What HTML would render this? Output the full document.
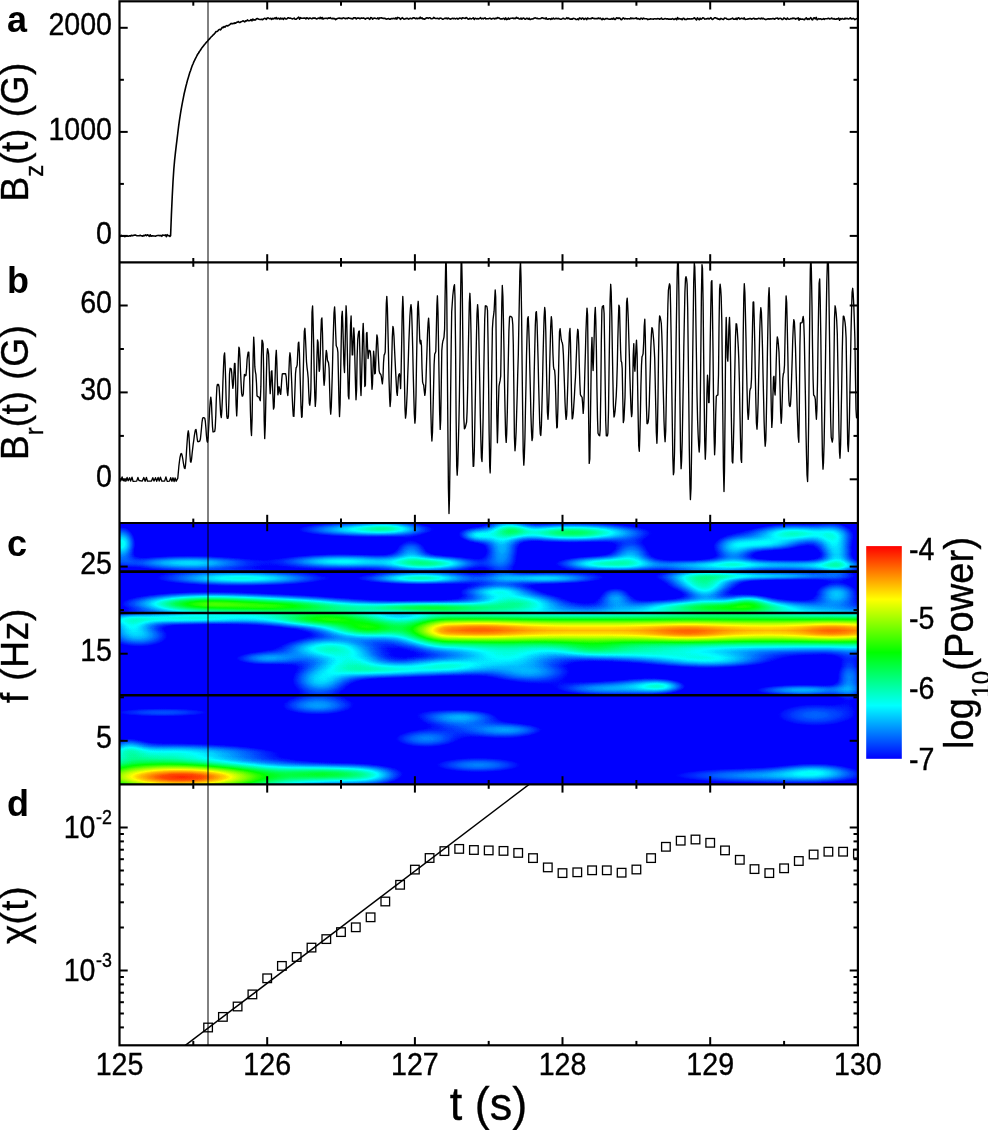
<!DOCTYPE html><html><head><meta charset="utf-8"><title>figure</title><style>html,body{margin:0;padding:0;background:#fff}svg{display:block}text{font-family:"Liberation Sans",Arial,sans-serif;fill:#000}</style></head><body>
<svg width="988" height="1130" viewBox="0 0 988 1130">
<defs>
<radialGradient id="g"><stop offset="0.0" stop-color="#fff" stop-opacity="1.000"/><stop offset="0.1" stop-color="#fff" stop-opacity="0.956"/><stop offset="0.2" stop-color="#fff" stop-opacity="0.835"/><stop offset="0.3" stop-color="#fff" stop-opacity="0.667"/><stop offset="0.4" stop-color="#fff" stop-opacity="0.487"/><stop offset="0.5" stop-color="#fff" stop-opacity="0.325"/><stop offset="0.6" stop-color="#fff" stop-opacity="0.198"/><stop offset="0.7" stop-color="#fff" stop-opacity="0.110"/><stop offset="0.8" stop-color="#fff" stop-opacity="0.056"/><stop offset="0.9" stop-color="#fff" stop-opacity="0.026"/><stop offset="1.0" stop-color="#fff" stop-opacity="0.000"/></radialGradient>
<linearGradient id="vg" x1="0" y1="0" x2="0" y2="1"><stop offset="0.00" stop-color="#fff" stop-opacity="0.000"/><stop offset="0.05" stop-color="#fff" stop-opacity="0.026"/><stop offset="0.10" stop-color="#fff" stop-opacity="0.056"/><stop offset="0.15" stop-color="#fff" stop-opacity="0.110"/><stop offset="0.20" stop-color="#fff" stop-opacity="0.198"/><stop offset="0.25" stop-color="#fff" stop-opacity="0.325"/><stop offset="0.30" stop-color="#fff" stop-opacity="0.487"/><stop offset="0.35" stop-color="#fff" stop-opacity="0.667"/><stop offset="0.40" stop-color="#fff" stop-opacity="0.835"/><stop offset="0.45" stop-color="#fff" stop-opacity="0.956"/><stop offset="0.50" stop-color="#fff" stop-opacity="1.000"/><stop offset="0.55" stop-color="#fff" stop-opacity="0.956"/><stop offset="0.60" stop-color="#fff" stop-opacity="0.835"/><stop offset="0.65" stop-color="#fff" stop-opacity="0.667"/><stop offset="0.70" stop-color="#fff" stop-opacity="0.487"/><stop offset="0.75" stop-color="#fff" stop-opacity="0.325"/><stop offset="0.80" stop-color="#fff" stop-opacity="0.198"/><stop offset="0.85" stop-color="#fff" stop-opacity="0.110"/><stop offset="0.90" stop-color="#fff" stop-opacity="0.056"/><stop offset="0.95" stop-color="#fff" stop-opacity="0.026"/><stop offset="1.00" stop-color="#fff" stop-opacity="0.000"/></linearGradient>
<linearGradient id="cb" x1="0" y1="0" x2="0" y2="1"><stop offset="0" stop-color="#f00"/><stop offset=".25" stop-color="#ff0"/><stop offset=".5" stop-color="#0f0"/><stop offset=".75" stop-color="#0ff"/><stop offset="1" stop-color="#00f"/></linearGradient>
<filter id="jet" color-interpolation-filters="sRGB" x="0" y="0" width="1" height="1" filterUnits="objectBoundingBox"><feComponentTransfer><feFuncR type="linear" slope="1.12" intercept="-0.12"/><feFuncG type="linear" slope="1.12" intercept="-0.12"/><feFuncB type="linear" slope="1.12" intercept="-0.12"/></feComponentTransfer><feComponentTransfer><feFuncR type="table" tableValues="0 0 0 1 1"/><feFuncG type="table" tableValues="0 1 1 1 0"/><feFuncB type="table" tableValues="1 1 0 0 0"/></feComponentTransfer></filter>
<clipPath id="ca"><rect x="119.5" y="1.3" width="738.4" height="261.09999999999997"/></clipPath>
<clipPath id="cbp"><rect x="119.5" y="262.4" width="738.4" height="260.6"/></clipPath>
<clipPath id="cc"><rect x="119.5" y="523.0" width="738.4" height="261.4"/></clipPath>
<clipPath id="cd"><rect x="119.5" y="784.4" width="738.4" height="260.9"/></clipPath>
</defs>
<rect width="988" height="1130" fill="#fff"/>
<g clip-path="url(#cc)"><g filter="url(#jet)">
<rect x="114.5" y="518.0" width="748.4" height="271.4" fill="#000"/>
<ellipse cx="182.1" cy="777.1" rx="216.0" ry="31.5" fill="url(#g)" fill-opacity="0.973"/>
<ellipse cx="146.6" cy="762.4" rx="120.0" ry="33.0" fill="url(#g)" fill-opacity="0.214"/>
<ellipse cx="128.2" cy="749.2" rx="36.0" ry="24.0" fill="url(#g)" fill-opacity="0.196"/>
<ellipse cx="193.9" cy="751.8" rx="180.0" ry="18.0" fill="url(#g)" fill-opacity="0.223"/>
<ellipse cx="162.4" cy="712.4" rx="135.0" ry="12.0" fill="url(#g)" fill-opacity="0.179"/>
<ellipse cx="325.5" cy="774.2" rx="114.0" ry="18.0" fill="url(#g)" fill-opacity="0.429"/>
<ellipse cx="317.6" cy="705.8" rx="84.0" ry="21.0" fill="url(#g)" fill-opacity="0.241"/>
<ellipse cx="138.7" cy="636.1" rx="66.0" ry="24.0" fill="url(#g)" fill-opacity="0.259"/>
<ellipse cx="130.8" cy="625.5" rx="42.0" ry="18.0" fill="url(#g)" fill-opacity="0.214"/>
<ellipse cx="180.8" cy="618.9" rx="210.0" ry="12.0" fill="url(#g)" fill-opacity="0.33"/>
<ellipse cx="201.8" cy="603.7" rx="135.0" ry="19.5" fill="url(#g)" fill-opacity="0.518"/>
<ellipse cx="278.2" cy="605.8" rx="165.0" ry="18.0" fill="url(#g)" fill-opacity="0.509"/>
<ellipse cx="325.5" cy="618.9" rx="120.0" ry="18.0" fill="url(#g)" fill-opacity="0.509"/>
<ellipse cx="367.6" cy="628.2" rx="90.0" ry="21.0" fill="url(#g)" fill-opacity="0.509"/>
<ellipse cx="241.3" cy="578.2" rx="165.0" ry="15.0" fill="url(#g)" fill-opacity="0.357"/>
<ellipse cx="188.7" cy="562.9" rx="135.0" ry="15.0" fill="url(#g)" fill-opacity="0.304"/>
<ellipse cx="340.0" cy="561.5" rx="120.0" ry="15.0" fill="url(#g)" fill-opacity="0.33"/>
<ellipse cx="365.0" cy="529.5" rx="135.0" ry="15.0" fill="url(#g)" fill-opacity="0.33"/>
<ellipse cx="388.0" cy="528.0" rx="54.0" ry="12.0" fill="url(#g)" fill-opacity="0.179"/>
<ellipse cx="121.6" cy="543.9" rx="27.0" ry="33.0" fill="url(#g)" fill-opacity="0.348"/>
<ellipse cx="325.5" cy="647.9" rx="90.0" ry="21.0" fill="url(#g)" fill-opacity="0.339"/>
<ellipse cx="351.8" cy="662.4" rx="75.0" ry="30.0" fill="url(#g)" fill-opacity="0.304"/>
<ellipse cx="320.3" cy="680.8" rx="60.0" ry="30.0" fill="url(#g)" fill-opacity="0.286"/>
<ellipse cx="267.6" cy="658.4" rx="75.0" ry="15.0" fill="url(#g)" fill-opacity="0.241"/>
<rect x="450.0" y="594.5" width="420.0" height="72.0" fill="url(#vg)" fill-opacity="0.839"/>
<clipPath id="cap450"><rect x="350.0" y="593.5" width="100.0" height="74.0"/></clipPath>
<ellipse clip-path="url(#cap450)" cx="450.0" cy="630.5" rx="99.0" ry="36.0" fill="url(#g)" fill-opacity="0.839"/>
<ellipse cx="480.0" cy="629.5" rx="96.0" ry="15.0" fill="url(#g)" fill-opacity="0.509"/>
<ellipse cx="688.0" cy="632.0" rx="84.0" ry="15.0" fill="url(#g)" fill-opacity="0.509"/>
<ellipse cx="832.0" cy="631.0" rx="66.0" ry="15.0" fill="url(#g)" fill-opacity="0.482"/>
<ellipse cx="430.0" cy="563.5" rx="96.0" ry="15.0" fill="url(#g)" fill-opacity="0.411"/>
<ellipse cx="420.5" cy="578.2" rx="105.0" ry="12.0" fill="url(#g)" fill-opacity="0.393"/>
<ellipse cx="425.8" cy="607.6" rx="180.0" ry="12.0" fill="url(#g)" fill-opacity="0.446"/>
<ellipse cx="517.9" cy="601.8" rx="90.0" ry="18.0" fill="url(#g)" fill-opacity="0.33"/>
<ellipse cx="496.8" cy="591.3" rx="75.0" ry="15.0" fill="url(#g)" fill-opacity="0.286"/>
<ellipse cx="502.1" cy="546.6" rx="36.0" ry="60.0" fill="url(#g)" fill-opacity="0.268"/>
<ellipse cx="580.0" cy="532.5" rx="135.0" ry="18.0" fill="url(#g)" fill-opacity="0.33"/>
<ellipse cx="603.0" cy="563.5" rx="90.0" ry="15.0" fill="url(#g)" fill-opacity="0.348"/>
<ellipse cx="544.2" cy="578.2" rx="120.0" ry="12.0" fill="url(#g)" fill-opacity="0.304"/>
<ellipse cx="446.8" cy="666.3" rx="105.0" ry="18.0" fill="url(#g)" fill-opacity="0.321"/>
<ellipse cx="386.3" cy="670.3" rx="105.0" ry="15.0" fill="url(#g)" fill-opacity="0.268"/>
<ellipse cx="507.4" cy="655.8" rx="105.0" ry="24.0" fill="url(#g)" fill-opacity="0.259"/>
<ellipse cx="591.6" cy="649.2" rx="75.0" ry="18.0" fill="url(#g)" fill-opacity="0.241"/>
<ellipse cx="531.1" cy="672.9" rx="90.0" ry="24.0" fill="url(#g)" fill-opacity="0.241"/>
<ellipse cx="596.8" cy="688.7" rx="90.0" ry="15.0" fill="url(#g)" fill-opacity="0.214"/>
<ellipse cx="425.8" cy="738.7" rx="75.0" ry="21.0" fill="url(#g)" fill-opacity="0.223"/>
<ellipse cx="465.3" cy="716.3" rx="75.0" ry="15.0" fill="url(#g)" fill-opacity="0.196"/>
<ellipse cx="512.6" cy="729.5" rx="75.0" ry="15.0" fill="url(#g)" fill-opacity="0.196"/>
<ellipse cx="478.4" cy="765.0" rx="105.0" ry="18.0" fill="url(#g)" fill-opacity="0.223"/>
<ellipse cx="367.9" cy="775.5" rx="66.0" ry="21.0" fill="url(#g)" fill-opacity="0.196"/>
<ellipse cx="794.5" cy="533.4" rx="90.0" ry="18.0" fill="url(#g)" fill-opacity="0.375"/>
<ellipse cx="833.9" cy="541.3" rx="36.0" ry="36.0" fill="url(#g)" fill-opacity="0.259"/>
<ellipse cx="736.6" cy="565.0" rx="210.0" ry="12.0" fill="url(#g)" fill-opacity="0.304"/>
<ellipse cx="762.9" cy="543.9" rx="75.0" ry="15.0" fill="url(#g)" fill-opacity="0.286"/>
<ellipse cx="702.4" cy="580.8" rx="75.0" ry="21.0" fill="url(#g)" fill-opacity="0.357"/>
<ellipse cx="762.9" cy="576.1" rx="180.0" ry="9.0" fill="url(#g)" fill-opacity="0.286"/>
<ellipse cx="723.4" cy="607.1" rx="165.0" ry="15.0" fill="url(#g)" fill-opacity="0.464"/>
<ellipse cx="836.6" cy="593.9" rx="45.0" ry="24.0" fill="url(#g)" fill-opacity="0.286"/>
<ellipse cx="710.3" cy="659.7" rx="120.0" ry="18.0" fill="url(#g)" fill-opacity="0.286"/>
<ellipse cx="644.5" cy="653.2" rx="120.0" ry="18.0" fill="url(#g)" fill-opacity="0.214"/>
<ellipse cx="644.5" cy="686.1" rx="75.0" ry="18.0" fill="url(#g)" fill-opacity="0.223"/>
<ellipse cx="802.4" cy="690.0" rx="105.0" ry="12.0" fill="url(#g)" fill-opacity="0.259"/>
<ellipse cx="849.7" cy="678.2" rx="30.0" ry="45.0" fill="url(#g)" fill-opacity="0.223"/>
<ellipse cx="815.5" cy="715.0" rx="105.0" ry="30.0" fill="url(#g)" fill-opacity="0.196"/>
<ellipse cx="762.9" cy="775.5" rx="210.0" ry="18.0" fill="url(#g)" fill-opacity="0.241"/>
<ellipse cx="815.5" cy="771.6" rx="75.0" ry="18.0" fill="url(#g)" fill-opacity="0.214"/>
<ellipse cx="477.6" cy="535.4" rx="36.0" ry="15.0" fill="url(#g)" fill-opacity="0.286"/>
<ellipse cx="513.4" cy="530.3" rx="36.0" ry="15.0" fill="url(#g)" fill-opacity="0.268"/>
<ellipse cx="411.1" cy="550.8" rx="36.0" ry="24.0" fill="url(#g)" fill-opacity="0.223"/>
<ellipse cx="631.0" cy="553.3" rx="42.0" ry="27.0" fill="url(#g)" fill-opacity="0.241"/>
<ellipse cx="733.2" cy="550.8" rx="42.0" ry="30.0" fill="url(#g)" fill-opacity="0.232"/>
<ellipse cx="838.0" cy="558.5" rx="30.0" ry="30.0" fill="url(#g)" fill-opacity="0.196"/>
<ellipse cx="830.3" cy="566.1" rx="75.0" ry="12.0" fill="url(#g)" fill-opacity="0.196"/>
<ellipse cx="615.6" cy="596.8" rx="36.0" ry="21.0" fill="url(#g)" fill-opacity="0.232"/>
<ellipse cx="705.1" cy="591.7" rx="42.0" ry="21.0" fill="url(#g)" fill-opacity="0.232"/>
<ellipse cx="748.5" cy="601.9" rx="42.0" ry="15.0" fill="url(#g)" fill-opacity="0.286"/>
<ellipse cx="564.5" cy="532.9" rx="105.0" ry="15.0" fill="url(#g)" fill-opacity="0.241"/>
<ellipse cx="661.6" cy="686.3" rx="42.0" ry="12.0" fill="url(#g)" fill-opacity="0.214"/>
<ellipse cx="462.2" cy="724.6" rx="135.0" ry="24.0" fill="url(#g)" fill-opacity="0.143" transform="rotate(12 462.2 724.6)"/>
</g></g>
<line x1="119.5" x2="857.9" y1="571.6" y2="571.6" stroke="#000" stroke-width="2.6"/>
<line x1="119.5" x2="857.9" y1="613.0" y2="613.0" stroke="#000" stroke-width="2.6"/>
<line x1="119.5" x2="857.9" y1="695.3" y2="695.3" stroke="#000" stroke-width="2.6"/>
<line x1="208" x2="208" y1="1.3" y2="1045.3" stroke="#000" stroke-opacity=".66" stroke-width="1.5"/>
<polyline clip-path="url(#ca)" fill="none" stroke="#000" stroke-width="1.6" stroke-linejoin="round" points="119.5,235.8 120.4,236.4 121.3,235.4 122.2,236.2 123.1,235.7 124.0,235.7 124.9,236.7 125.8,235.9 126.7,235.8 127.6,236.1 128.5,236.3 129.4,235.8 130.3,236.1 131.2,235.4 132.1,235.6 133.0,235.6 133.9,235.2 134.8,235.1 135.7,235.1 136.6,235.7 137.5,235.7 138.4,235.7 139.3,235.8 140.2,235.2 141.1,235.8 142.0,235.9 142.9,236.1 143.8,235.4 144.7,235.6 145.6,234.9 146.5,235.6 147.4,234.8 148.3,235.2 149.2,236.3 150.1,234.8 151.0,236.2 151.9,235.9 152.8,235.7 153.7,236.0 154.6,236.0 155.5,236.3 156.4,235.7 157.3,235.5 158.2,235.5 159.1,235.4 160.0,235.8 160.9,235.4 161.8,236.3 162.7,235.0 163.6,235.3 164.5,235.4 165.4,234.9 166.3,236.7 167.2,234.7 168.1,235.7 169.0,235.6 169.9,236.5 170.6,235.8 171.4,214.8 172.2,197.2 173.0,181.7 173.8,169.5 174.6,160.4 175.4,152.9 176.2,146.2 177.0,139.7 177.8,133.0 178.6,126.3 179.4,120.7 180.2,115.3 181.0,110.3 181.8,105.8 182.6,101.7 183.4,97.7 184.2,93.5 185.0,90.2 185.8,86.7 186.6,83.8 187.4,80.6 188.2,78.0 189.0,75.3 189.8,72.6 190.6,70.4 191.4,67.9 192.2,65.7 193.0,64.0 193.8,61.9 194.6,60.3 195.4,58.7 196.2,57.2 197.0,55.5 197.8,54.0 198.6,53.0 199.4,51.5 200.2,50.5 201.0,49.3 201.8,47.9 202.6,46.9 203.4,45.9 204.2,44.9 205.0,44.0 205.8,43.0 206.6,42.1 207.4,41.3 208.2,40.3 209.0,39.4 209.8,38.6 210.6,37.5 211.4,36.7 212.2,36.1 213.0,35.1 213.8,34.4 214.6,33.4 215.0,33.2 215.9,31.5 216.8,31.7 217.7,31.1 218.6,29.9 219.5,29.4 220.4,29.9 221.3,28.9 222.2,27.3 223.1,27.7 224.0,26.5 224.9,27.2 225.8,26.1 226.7,25.6 227.6,26.0 228.5,25.3 229.4,25.0 230.3,24.2 231.2,23.4 232.1,23.9 233.0,23.3 233.9,23.6 234.8,22.8 235.7,23.2 236.6,22.2 237.5,22.1 238.4,21.5 239.3,22.5 240.2,22.4 241.1,21.7 242.0,21.4 242.9,20.8 243.8,21.3 244.7,21.9 245.6,20.9 246.5,21.0 247.4,19.9 248.3,20.8 249.2,20.7 250.1,20.5 251.0,19.6 251.9,20.8 252.8,19.0 253.7,20.1 254.6,19.9 255.5,20.0 256.4,18.8 257.3,18.5 258.2,18.9 259.1,19.3 260.0,19.5 260.9,19.4 261.8,19.2 262.7,19.7 263.6,18.9 264.5,18.4 265.4,18.5 266.3,19.5 267.2,18.0 268.1,17.9 269.0,18.4 269.9,18.8 270.8,18.3 271.7,19.4 272.6,18.4 273.5,18.9 274.4,18.0 275.3,18.7 276.2,17.5 277.1,19.0 278.0,18.4 278.9,18.4 279.8,19.3 280.7,18.0 281.6,18.9 282.5,18.3 283.4,19.4 284.3,18.0 285.2,18.5 286.1,19.1 287.0,18.7 287.9,17.7 288.8,17.9 289.7,18.3 290.6,18.1 291.5,18.6 292.4,18.9 293.3,18.6 294.2,18.1 295.1,19.2 296.0,19.3 296.9,18.6 297.8,17.9 298.7,17.2 299.6,19.2 300.5,17.7 301.4,18.2 302.3,18.3 303.2,18.3 304.1,18.0 305.0,18.1 305.9,19.0 306.8,17.8 307.7,18.2 308.6,19.0 309.5,18.1 310.4,18.1 311.3,18.7 312.2,18.7 313.1,17.9 314.0,18.4 314.9,17.9 315.8,18.5 316.7,18.9 317.6,18.5 318.5,18.1 319.4,18.6 320.3,17.3 321.2,18.7 322.1,17.5 323.0,19.1 323.9,18.4 324.8,18.5 325.7,18.2 326.6,18.3 327.5,18.8 328.4,17.9 329.3,18.3 330.2,17.5 331.1,18.5 332.0,18.6 332.9,18.4 333.8,18.6 334.7,18.6 335.6,19.6 336.5,19.0 337.4,18.5 338.3,18.2 339.2,18.0 340.1,18.4 341.0,18.2 341.9,18.8 342.8,18.0 343.7,17.9 344.6,18.2 345.5,18.7 346.4,18.3 347.3,18.6 348.2,17.7 349.1,18.1 350.0,18.3 350.9,18.6 351.8,18.6 352.7,18.9 353.6,17.7 354.5,17.9 355.4,17.8 356.3,19.0 357.2,18.0 358.1,18.1 359.0,18.0 359.9,18.8 360.8,18.3 361.7,17.9 362.6,18.2 363.5,17.9 364.4,18.4 365.3,19.1 366.2,18.4 367.1,18.3 368.0,18.0 368.9,18.7 369.8,19.3 370.7,17.6 371.6,17.7 372.5,19.2 373.4,18.5 374.3,18.1 375.2,18.2 376.1,18.5 377.0,18.7 377.9,17.8 378.8,19.1 379.7,17.9 380.6,18.0 381.5,17.7 382.4,18.2 383.3,18.4 384.2,18.4 385.1,18.4 386.0,19.0 386.9,19.1 387.8,18.7 388.7,18.5 389.6,19.3 390.5,19.1 391.4,18.5 392.3,18.6 393.2,18.6 394.1,18.3 395.0,18.9 395.9,17.8 396.8,19.1 397.7,17.4 398.6,17.7 399.5,18.0 400.4,19.3 401.3,18.7 402.2,17.7 403.1,18.4 404.0,19.1 404.9,19.0 405.8,18.6 406.7,18.4 407.6,18.2 408.5,19.1 409.4,18.7 410.3,18.2 411.2,18.6 412.1,18.8 413.0,17.9 413.9,17.9 414.8,18.1 415.7,18.8 416.6,18.1 417.5,18.8 418.4,18.3 419.3,18.6 420.2,17.2 421.1,18.5 422.0,17.8 422.9,18.9 423.8,18.9 424.7,19.2 425.6,18.5 426.5,17.8 427.4,17.9 428.3,18.4 429.2,17.8 430.1,17.7 431.0,18.6 431.9,18.7 432.8,18.5 433.7,17.4 434.6,18.0 435.5,18.5 436.4,18.5 437.3,18.2 438.2,18.5 439.1,18.9 440.0,18.1 440.9,18.3 441.8,18.6 442.7,19.3 443.6,18.9 444.5,18.4 445.4,18.4 446.3,18.0 447.2,18.9 448.1,18.0 449.0,18.5 449.9,18.9 450.8,19.1 451.7,18.6 452.6,18.3 453.5,18.7 454.4,18.3 455.3,18.9 456.2,18.6 457.1,18.3 458.0,19.1 458.9,18.5 459.8,18.1 460.7,18.2 461.6,19.0 462.5,17.7 463.4,18.0 464.3,18.3 465.2,18.4 466.1,17.6 467.0,17.9 467.9,19.0 468.8,19.1 469.7,18.4 470.6,18.6 471.5,18.9 472.4,18.4 473.3,17.8 474.2,19.5 475.1,18.3 476.0,18.6 476.9,18.9 477.8,18.5 478.7,18.9 479.6,18.3 480.5,17.6 481.4,18.9 482.3,18.3 483.2,18.9 484.1,18.2 485.0,17.9 485.9,18.9 486.8,18.8 487.7,18.7 488.6,18.8 489.5,18.2 490.4,18.2 491.3,19.1 492.2,18.6 493.1,18.5 494.0,18.3 494.9,19.0 495.8,18.2 496.7,18.6 497.6,17.5 498.5,18.0 499.4,18.1 500.3,19.0 501.2,18.9 502.1,18.9 503.0,18.5 503.9,18.4 504.8,19.4 505.7,17.9 506.6,19.6 507.5,19.3 508.4,18.0 509.3,19.2 510.2,18.6 511.1,18.2 512.0,18.3 512.9,18.0 513.8,18.7 514.7,18.2 515.6,18.6 516.5,17.3 517.4,18.3 518.3,18.1 519.2,19.0 520.1,19.0 521.0,18.1 521.9,19.2 522.8,18.3 523.7,18.0 524.6,18.9 525.5,19.3 526.4,18.4 527.3,18.4 528.2,19.2 529.1,18.2 530.0,19.4 530.9,19.4 531.8,18.9 532.7,19.0 533.6,18.5 534.5,18.0 535.4,17.9 536.3,18.4 537.2,18.2 538.1,18.7 539.0,18.7 539.9,18.8 540.8,18.5 541.7,17.8 542.6,17.8 543.5,18.4 544.4,18.4 545.3,18.9 546.2,17.9 547.1,19.3 548.0,19.2 548.9,18.8 549.8,18.7 550.7,19.5 551.6,18.4 552.5,19.0 553.4,18.1 554.3,19.0 555.2,18.7 556.1,18.2 557.0,18.8 557.9,18.4 558.8,18.6 559.7,18.9 560.6,19.3 561.5,19.2 562.4,18.6 563.3,18.3 564.2,18.8 565.1,19.1 566.0,18.6 566.9,17.7 567.8,18.6 568.7,18.0 569.6,19.0 570.5,19.1 571.4,18.9 572.3,19.2 573.2,18.4 574.1,18.5 575.0,18.7 575.9,19.5 576.8,19.5 577.7,18.8 578.6,19.6 579.5,17.9 580.4,18.2 581.3,19.1 582.2,18.1 583.1,18.3 584.0,19.4 584.9,18.6 585.8,18.4 586.7,19.6 587.6,18.0 588.5,18.7 589.4,18.7 590.3,18.6 591.2,18.8 592.1,17.9 593.0,18.1 593.9,18.7 594.8,18.4 595.7,18.8 596.6,18.5 597.5,18.7 598.4,18.0 599.3,18.7 600.2,18.1 601.1,18.9 602.0,19.7 602.9,18.4 603.8,19.3 604.7,19.4 605.6,18.6 606.5,18.6 607.4,18.5 608.3,19.0 609.2,19.2 610.1,19.0 611.0,19.1 611.9,18.5 612.8,19.2 613.7,18.1 614.6,19.4 615.5,19.4 616.4,17.8 617.3,18.0 618.2,18.5 619.1,17.9 620.0,18.2 620.9,19.5 621.8,19.6 622.7,18.3 623.6,17.9 624.5,19.0 625.4,18.5 626.3,18.7 627.2,18.9 628.1,18.8 629.0,18.8 629.9,19.0 630.8,17.9 631.7,18.7 632.6,18.2 633.5,18.6 634.4,18.5 635.3,18.4 636.2,17.9 637.1,18.9 638.0,18.5 638.9,18.9 639.8,19.4 640.7,18.2 641.6,18.4 642.5,19.1 643.4,18.1 644.3,18.6 645.2,18.7 646.1,18.8 647.0,18.9 647.9,19.6 648.8,19.1 649.7,19.2 650.6,18.8 651.5,19.0 652.4,19.0 653.3,19.2 654.2,18.8 655.1,18.8 656.0,19.0 656.9,18.9 657.8,18.6 658.7,18.7 659.6,19.3 660.5,18.8 661.4,18.1 662.3,19.2 663.2,19.2 664.1,18.9 665.0,18.6 665.9,18.8 666.8,19.1 667.7,18.7 668.6,19.2 669.5,19.1 670.4,19.1 671.3,19.3 672.2,18.6 673.1,18.9 674.0,19.5 674.9,19.0 675.8,18.6 676.7,19.6 677.6,17.6 678.5,19.0 679.4,18.6 680.3,19.1 681.2,18.7 682.1,19.7 683.0,18.4 683.9,18.4 684.8,19.4 685.7,19.2 686.6,19.4 687.5,18.6 688.4,18.9 689.3,18.8 690.2,19.0 691.1,18.9 692.0,18.9 692.9,18.8 693.8,18.1 694.7,17.9 695.6,19.2 696.5,20.0 697.4,17.9 698.3,18.9 699.2,19.8 700.1,18.2 701.0,19.2 701.9,18.8 702.8,17.8 703.7,18.0 704.6,19.1 705.5,19.0 706.4,18.9 707.3,18.6 708.2,18.4 709.1,19.0 710.0,18.3 710.9,17.7 711.8,19.1 712.7,19.5 713.6,18.7 714.5,17.8 715.4,17.7 716.3,18.4 717.2,18.4 718.1,19.2 719.0,18.9 719.9,19.6 720.8,18.4 721.7,18.8 722.6,19.2 723.5,19.5 724.4,18.1 725.3,18.3 726.2,18.3 727.1,19.1 728.0,19.2 728.9,19.4 729.8,19.3 730.7,18.9 731.6,18.8 732.5,18.0 733.4,19.1 734.3,19.0 735.2,19.2 736.1,18.2 737.0,19.5 737.9,18.1 738.8,17.8 739.7,19.1 740.6,18.7 741.5,18.3 742.4,18.6 743.3,18.9 744.2,17.8 745.1,19.5 746.0,19.3 746.9,19.2 747.8,18.9 748.7,18.9 749.6,18.6 750.5,18.5 751.4,19.1 752.3,18.9 753.2,18.4 754.1,18.3 755.0,19.1 755.9,18.8 756.8,19.1 757.7,18.7 758.6,18.3 759.5,18.6 760.4,18.9 761.3,18.1 762.2,18.9 763.1,18.2 764.0,18.9 764.9,19.1 765.8,19.6 766.7,19.2 767.6,18.9 768.5,18.9 769.4,19.1 770.3,18.7 771.2,19.0 772.1,18.7 773.0,18.4 773.9,18.9 774.8,19.1 775.7,18.2 776.6,18.3 777.5,18.1 778.4,19.1 779.3,18.5 780.2,18.4 781.1,18.5 782.0,19.5 782.9,19.4 783.8,18.0 784.7,18.3 785.6,19.0 786.5,19.4 787.4,18.0 788.3,19.0 789.2,19.2 790.1,19.0 791.0,18.6 791.9,18.8 792.8,18.0 793.7,18.5 794.6,18.2 795.5,19.1 796.4,18.5 797.3,18.6 798.2,17.8 799.1,20.1 800.0,18.5 800.9,19.3 801.8,19.1 802.7,19.0 803.6,19.4 804.5,19.8 805.4,18.6 806.3,17.8 807.2,19.5 808.1,18.7 809.0,19.4 809.9,18.5 810.8,17.7 811.7,19.4 812.6,19.8 813.5,18.1 814.4,17.9 815.3,18.9 816.2,17.4 817.1,19.7 818.0,19.2 818.9,18.6 819.8,19.1 820.7,18.7 821.6,19.5 822.5,19.3 823.4,18.6 824.3,19.4 825.2,18.7 826.1,18.7 827.0,18.8 827.9,18.4 828.8,18.4 829.7,19.0 830.6,18.8 831.5,18.0 832.4,18.7 833.3,19.0 834.2,18.6 835.1,19.3 836.0,19.1 836.9,18.9 837.8,18.9 838.7,18.0 839.6,20.2 840.5,18.6 841.4,19.1 842.3,18.5 843.2,19.0 844.1,19.2 845.0,18.2 845.9,18.9 846.8,18.3 847.7,18.7 848.6,19.0 849.5,18.5 850.4,17.8 851.3,19.0 852.2,18.9 853.1,18.4 854.0,18.8 854.9,19.7 855.8,19.1 856.7,18.8 857.6,18.2 858.5,18.7"/>
<polyline clip-path="url(#cbp)" fill="none" stroke="#000" stroke-width="1.35" stroke-linejoin="round" points="119.5,478.0 120.6,481.0 122.1,476.9 123.1,480.5 126.0,481.1 127.1,477.4 128.2,480.7 129.6,477.8 130.6,481.1 132.0,477.1 133.1,481.3 136.7,481.1 137.9,477.4 139.0,480.5 142.3,481.1 143.8,477.5 145.1,481.3 146.4,477.5 147.5,481.2 151.5,481.1 152.8,477.7 154.0,481.0 155.5,477.7 156.7,481.4 158.1,477.4 159.2,481.0 160.4,477.2 161.9,481.2 164.6,481.1 165.9,476.9 167.2,481.4 169.5,481.1 170.7,477.7 171.9,481.4 173.0,477.8 174.1,481.5 175.1,477.9 176.2,481.2 177.8,478.1 178.4,471.5 178.9,465.8 179.5,461.0 180.0,457.3 180.6,454.8 181.1,453.5 181.7,453.8 182.2,455.8 182.8,459.0 183.3,462.5 183.9,465.8 184.4,468.0 185.0,468.6 185.5,465.1 186.1,458.2 186.6,449.6 187.2,441.0 187.7,434.1 188.3,430.8 188.8,433.8 189.4,443.2 189.9,454.2 190.5,461.8 191.0,462.2 191.6,458.8 192.1,453.6 192.7,448.3 193.2,444.2 193.8,440.1 194.3,436.0 194.9,432.4 195.4,430.0 196.0,429.4 196.5,432.7 197.1,438.0 197.6,441.5 198.2,441.7 198.7,441.5 199.3,441.3 199.8,441.0 200.4,439.0 200.9,434.2 201.5,428.1 202.0,422.3 202.6,418.3 203.1,417.6 203.7,417.7 204.2,417.9 204.8,418.3 205.3,421.2 205.9,427.8 206.4,435.2 207.0,440.9 207.5,442.2 208.1,437.7 208.6,429.2 209.2,418.8 209.7,408.7 210.3,400.8 210.8,397.2 211.4,401.9 211.9,414.1 212.5,426.6 213.0,431.9 213.6,431.8 214.1,431.6 214.7,431.3 215.2,428.1 215.8,415.4 216.3,399.3 216.9,386.9 217.4,384.3 218.0,384.3 218.5,384.3 219.1,387.0 219.6,395.5 220.2,405.9 220.7,414.6 221.3,417.5 221.8,411.4 222.4,398.6 222.9,382.6 223.5,367.2 224.0,356.1 224.6,352.9 225.1,362.8 225.7,381.7 226.2,402.0 226.8,416.0 227.3,418.3 227.9,418.3 228.4,416.4 229.0,397.0 229.5,374.2 230.1,368.3 230.6,368.5 231.2,368.9 231.7,372.7 232.3,381.9 232.8,388.3 233.4,384.5 233.9,373.5 234.5,363.5 235.0,363.5 235.6,381.5 236.1,404.5 236.7,415.9 237.2,406.3 237.8,384.4 238.3,361.0 238.9,347.1 239.4,348.7 240.0,357.8 240.5,370.7 241.1,383.6 241.6,393.1 242.2,396.0 242.7,396.0 243.3,393.9 243.8,382.6 244.4,374.5 244.9,374.9 245.5,375.8 246.0,375.3 246.6,368.4 247.1,359.5 247.7,354.9 248.2,352.2 248.8,352.1 249.3,364.2 249.9,386.2 250.4,410.5 251.0,429.5 251.5,435.5 252.1,418.4 252.6,386.1 253.2,353.9 253.7,337.1 254.3,347.6 254.8,366.7 255.4,371.8 255.9,374.4 256.5,383.2 257.0,395.8 257.6,396.5 258.1,396.7 258.7,396.9 259.2,397.7 259.8,399.5 260.3,400.7 260.9,386.4 261.4,357.2 262.0,340.2 262.5,341.1 263.1,343.8 263.6,369.1 264.2,421.0 264.7,438.6 265.3,425.4 265.8,401.7 266.4,375.6 266.9,355.3 267.5,348.7 268.0,350.4 268.6,353.9 269.1,366.3 269.7,384.7 270.2,393.6 270.8,384.8 271.3,371.7 271.9,370.8 272.4,382.6 273.0,398.3 273.5,409.1 274.1,407.0 274.6,393.2 275.2,374.5 275.7,357.9 276.3,350.3 276.8,361.0 277.4,382.5 277.9,394.8 278.5,391.3 279.0,386.7 279.6,388.7 280.1,393.2 280.7,394.4 281.2,388.1 281.8,379.1 282.3,373.8 282.9,373.7 283.4,373.7 284.0,373.7 284.5,373.7 285.1,373.7 285.6,373.7 286.2,376.8 286.7,384.5 287.3,392.3 287.8,395.5 288.4,387.5 288.9,371.6 289.5,357.1 290.0,352.8 290.6,358.2 291.1,368.9 291.7,382.5 292.2,396.5 292.8,408.6 293.3,416.2 293.9,416.3 294.4,405.3 295.0,388.6 295.5,373.7 296.1,367.7 296.6,367.1 297.2,364.8 297.7,354.0 298.3,343.1 298.8,342.2 299.4,352.5 299.9,369.6 300.5,389.1 301.0,406.4 301.6,417.3 302.1,416.7 302.7,400.3 303.2,375.2 303.8,349.5 304.3,331.3 304.9,328.3 305.4,336.7 306.0,349.8 306.5,361.8 307.1,368.1 307.6,371.9 308.2,378.2 308.7,391.3 309.3,403.3 309.8,405.2 310.4,399.8 310.9,388.9 311.5,351.7 312.0,312.3 312.6,305.9 313.1,321.3 313.7,346.2 314.2,373.5 314.8,396.0 315.3,406.4 315.9,398.7 316.4,378.1 317.0,355.0 317.5,340.0 318.1,342.5 318.6,358.0 319.2,371.3 319.7,369.0 320.3,353.7 320.8,334.3 321.4,319.4 321.9,317.9 322.5,333.5 323.0,357.1 323.6,377.9 324.1,385.3 324.7,379.4 325.2,367.9 325.8,356.4 326.3,350.4 326.9,353.7 327.4,360.0 328.0,361.7 328.5,362.6 329.1,368.1 329.6,387.2 330.2,407.3 330.7,414.1 331.3,406.6 331.8,390.8 332.4,370.2 332.9,348.1 333.5,328.0 334.0,313.1 334.6,306.9 335.1,315.5 335.7,333.6 336.2,345.5 336.8,347.0 337.3,348.0 337.9,352.4 338.4,375.1 339.0,402.9 339.5,416.6 340.1,404.4 340.6,375.5 341.2,342.2 341.7,316.8 342.3,311.3 342.8,324.2 343.4,345.2 343.9,364.5 344.5,372.5 345.0,353.9 345.6,321.6 346.1,305.8 346.7,317.9 347.2,344.4 347.8,374.1 348.3,395.9 348.9,398.9 349.4,380.2 350.0,351.3 350.5,325.5 351.1,316.0 351.6,332.7 352.2,354.9 352.7,354.9 353.3,338.6 353.8,328.0 354.4,337.8 354.9,360.6 355.5,385.0 356.0,399.8 356.6,390.0 357.1,358.2 357.7,339.9 358.2,334.6 358.8,331.3 359.3,331.0 359.9,353.0 360.4,384.3 361.0,395.5 361.5,382.0 362.1,358.0 362.6,334.7 363.2,323.4 363.7,335.6 364.3,363.4 364.8,386.6 365.4,385.2 365.9,358.7 366.5,333.1 367.0,332.5 367.6,348.2 368.1,358.5 368.7,353.5 369.2,350.3 369.8,350.6 370.3,351.2 370.9,357.4 371.4,375.4 372.0,389.3 372.5,384.1 373.1,365.4 373.6,351.1 374.2,357.6 374.7,373.9 375.3,373.2 375.8,360.1 376.4,344.5 376.9,335.0 377.5,337.8 378.0,348.3 378.6,361.1 379.1,370.7 379.7,373.1 380.2,373.8 380.8,374.4 381.3,376.3 381.9,381.0 382.4,383.8 383.0,376.8 383.5,363.1 384.1,355.0 384.6,354.3 385.2,352.0 385.7,330.2 386.3,303.5 386.8,296.4 387.4,307.6 387.9,328.4 388.5,353.8 389.0,378.7 389.6,397.9 390.1,406.5 390.7,399.8 391.2,381.3 391.8,358.1 392.3,337.4 392.9,326.5 393.4,328.5 394.0,336.8 394.5,348.4 395.1,360.8 395.6,371.1 396.2,381.9 396.7,391.8 397.3,395.4 397.8,387.4 398.4,376.8 398.9,374.4 399.5,373.8 400.0,377.7 400.6,388.6 401.1,372.4 401.7,342.0 402.2,312.0 402.8,296.5 403.3,307.8 403.9,339.7 404.4,378.1 405.0,408.8 405.5,418.1 406.1,413.9 406.6,404.8 407.2,391.9 407.7,376.5 408.3,360.0 408.8,343.6 409.4,328.6 409.9,316.2 410.5,307.8 411.0,304.6 411.6,310.3 412.1,326.1 412.7,348.1 413.2,372.5 413.8,395.7 414.3,413.8 414.9,423.1 415.4,418.0 416.0,395.6 416.5,364.0 417.1,332.1 417.6,308.3 418.2,301.3 418.7,310.8 419.3,327.1 419.8,341.0 420.4,343.9 420.9,340.3 421.5,345.9 422.0,368.3 422.6,382.1 423.1,383.8 423.7,385.3 424.2,390.4 424.8,395.3 425.3,392.5 425.9,382.0 426.4,366.9 427.0,350.0 427.5,334.3 428.1,322.7 428.6,318.1 429.2,327.2 429.7,350.1 430.3,379.9 430.8,409.6 431.4,432.3 431.9,441.0 432.5,432.1 433.0,411.4 433.6,386.4 434.1,364.7 434.7,354.0 435.2,353.2 435.8,351.6 436.3,331.5 436.9,304.7 437.4,295.8 438.0,312.0 438.5,343.0 439.1,379.3 439.6,411.3 440.2,429.4 440.7,420.3 441.3,383.3 441.8,350.6 442.4,343.8 442.9,341.0 443.5,339.2 444.0,337.1 444.6,329.1 445.1,295.9 445.7,262.1 446.2,260.1 446.8,299.0 447.3,362.0 447.9,430.9 448.4,487.5 449.0,513.5 449.5,497.9 450.1,453.5 450.6,396.8 451.2,344.2 451.7,311.9 452.3,302.8 452.8,295.8 453.4,290.3 453.9,286.5 454.5,284.7 455.0,297.5 455.6,350.1 456.1,416.2 456.7,466.2 457.2,475.1 457.8,464.4 458.3,445.5 458.9,421.8 459.4,396.7 460.0,355.4 460.5,304.1 461.1,264.1 461.6,256.0 462.2,282.7 462.7,328.9 463.3,379.0 463.8,417.2 464.4,428.8 464.9,428.2 465.5,426.7 466.0,424.6 466.6,422.0 467.1,411.4 467.7,387.5 468.2,357.0 468.8,326.6 469.3,303.1 469.9,293.3 470.4,304.1 471.0,332.8 471.5,371.5 472.1,412.0 472.6,446.3 473.2,466.4 473.7,466.1 474.3,450.9 474.8,425.8 475.4,395.1 475.9,363.4 476.5,334.8 477.0,313.7 477.6,304.6 478.1,310.5 478.7,328.7 479.2,355.0 479.8,385.2 480.3,415.2 480.9,440.7 481.4,457.6 482.0,461.5 482.5,447.1 483.1,418.5 483.6,382.9 484.2,347.6 484.7,319.5 485.3,306.0 485.8,305.8 486.4,306.1 486.9,306.5 487.5,310.3 488.0,338.9 488.6,384.3 489.1,431.7 489.7,466.1 490.2,472.9 490.8,447.9 491.3,405.2 491.9,360.3 492.4,328.6 493.0,319.6 493.5,315.8 494.1,311.2 494.6,300.7 495.2,290.0 495.7,297.1 496.3,351.5 496.8,415.6 497.4,442.8 497.9,427.3 498.5,401.2 499.0,386.1 499.6,382.8 500.1,380.7 500.7,376.2 501.2,345.6 501.8,303.0 502.3,285.5 502.9,296.1 503.4,319.3 504.0,350.0 504.5,383.0 505.1,412.8 505.6,434.4 506.2,442.4 506.7,433.7 507.3,412.4 507.8,384.4 508.4,355.3 508.9,331.1 509.5,317.5 510.0,316.3 510.6,316.4 511.1,316.7 511.7,317.1 512.2,318.2 512.8,324.8 513.3,344.4 513.9,391.6 514.4,437.2 515.0,450.8 515.5,444.7 516.1,432.0 516.6,414.9 517.2,395.1 517.7,374.7 518.3,354.9 518.8,327.5 519.4,296.5 519.9,271.3 520.5,261.2 521.0,277.1 521.6,315.6 522.1,365.1 522.7,414.2 523.2,451.4 523.8,465.1 524.3,457.5 524.9,438.8 525.4,413.0 526.0,384.1 526.5,356.1 527.1,333.0 527.6,318.6 528.2,316.7 528.7,326.5 529.3,344.5 529.8,367.3 530.4,391.6 530.9,414.2 531.5,431.5 532.0,440.5 532.6,437.5 533.1,422.7 533.7,400.0 534.2,373.5 534.8,347.3 535.3,325.6 535.9,312.5 536.4,311.6 537.0,321.2 537.5,338.2 538.1,359.7 538.6,382.9 539.2,404.9 539.7,422.9 540.3,434.1 540.8,435.5 541.4,425.6 541.9,407.1 542.5,383.6 543.0,358.4 543.6,335.1 544.1,317.0 544.7,307.5 545.2,311.6 545.8,331.8 546.3,360.6 546.9,390.0 547.4,412.2 548.0,419.3 548.5,410.7 549.1,392.4 549.6,369.1 550.2,345.6 550.7,326.6 551.3,316.7 551.8,320.5 552.4,335.2 552.9,353.1 553.5,366.5 554.0,369.4 554.6,370.0 555.1,376.1 555.7,393.5 556.2,413.7 556.8,427.9 557.3,427.1 557.9,408.4 558.4,380.2 559.0,351.6 559.5,331.8 560.1,328.6 560.6,333.8 561.2,339.2 561.7,341.4 562.3,342.8 562.8,345.6 563.4,354.7 563.9,369.1 564.5,385.7 565.0,401.7 565.6,413.9 566.1,419.4 566.7,415.2 567.2,402.3 567.8,384.2 568.3,364.4 568.9,346.2 569.4,333.1 570.0,328.5 570.5,342.8 571.1,372.1 571.6,402.1 572.2,418.9 572.7,418.0 573.3,412.9 573.8,405.2 574.4,396.0 574.9,386.3 575.5,377.0 576.0,364.5 576.6,350.0 577.1,337.1 577.7,329.3 578.2,331.1 578.8,345.3 579.3,365.4 579.9,384.2 580.4,394.5 581.0,395.9 581.5,396.5 582.1,397.4 582.6,403.5 583.2,413.4 583.7,406.6 584.3,392.3 584.8,373.4 585.4,352.7 585.9,333.0 586.5,317.2 587.0,308.1 587.6,315.1 588.1,362.5 588.7,423.2 589.2,463.4 589.8,458.8 590.3,428.2 590.9,387.7 591.4,352.5 592.0,337.4 592.5,358.7 593.1,370.5 593.6,357.2 594.2,335.7 594.7,315.8 595.3,307.4 595.8,320.5 596.4,350.6 596.9,386.8 597.5,418.1 598.0,433.3 598.6,434.5 599.1,435.4 599.7,435.8 600.2,429.8 600.8,392.1 601.3,343.1 601.9,309.8 602.4,306.4 603.0,306.0 603.5,305.7 604.1,313.2 604.6,344.0 605.2,384.8 605.7,420.5 606.3,435.8 606.8,435.8 607.4,435.8 607.9,433.2 608.5,410.5 609.0,373.6 609.6,333.2 610.1,299.8 610.7,284.3 611.2,292.2 611.8,315.9 612.3,347.7 612.9,380.1 613.4,405.8 614.0,417.0 614.5,415.5 615.1,411.0 615.6,404.3 616.2,396.4 616.7,385.3 617.3,364.9 617.8,340.6 618.4,318.6 618.9,305.1 619.5,307.2 620.0,327.3 620.6,350.6 621.1,361.1 621.7,362.2 622.2,368.5 622.8,399.1 623.3,422.6 623.9,419.8 624.4,410.4 625.0,397.5 625.5,372.6 626.1,333.3 626.6,302.3 627.2,298.1 627.7,305.8 628.3,319.7 628.8,337.5 629.4,357.4 629.9,377.2 630.5,395.1 631.0,408.9 631.6,416.6 632.1,412.8 632.7,386.2 633.2,355.6 633.8,343.6 634.3,364.5 634.9,371.2 635.4,360.5 636.0,346.9 636.5,340.2 637.1,353.4 637.6,384.0 638.2,419.2 638.7,445.8 639.3,451.3 639.8,437.4 640.4,413.1 640.9,386.4 641.5,365.1 642.0,356.8 642.6,355.4 643.1,353.6 643.7,342.4 644.2,326.4 644.8,319.2 645.3,335.9 645.9,369.8 646.4,404.4 647.0,423.6 647.5,423.7 648.1,422.3 648.6,418.1 649.2,405.6 649.7,387.7 650.3,367.5 650.8,348.6 651.4,334.2 651.9,327.6 652.5,328.8 653.0,333.0 653.6,339.3 654.1,347.0 654.7,358.3 655.2,381.3 655.8,408.8 656.3,432.3 656.9,443.3 657.4,430.7 658.0,397.0 658.5,356.8 659.1,325.1 659.6,315.9 660.2,317.1 660.7,319.7 661.3,323.3 661.8,334.3 662.4,353.0 662.9,375.8 663.5,399.5 664.0,420.7 664.6,435.8 665.1,441.7 665.7,431.2 666.2,404.4 666.8,369.1 667.3,333.2 667.9,304.3 668.4,290.4 669.0,286.3 669.5,283.8 670.1,286.0 670.6,306.4 671.2,340.9 671.7,382.2 672.3,423.2 672.8,456.4 673.4,474.7 673.9,472.2 674.5,452.4 675.0,420.6 675.6,381.7 676.1,340.8 676.7,302.9 677.2,273.0 677.8,256.1 678.3,260.0 678.9,294.9 679.4,348.4 680.0,405.3 680.5,450.4 681.1,468.7 681.6,461.3 682.2,441.8 682.7,413.9 683.3,381.3 683.8,347.7 684.4,316.9 684.9,292.6 685.5,278.5 686.0,276.7 686.6,278.9 687.1,284.1 687.7,309.1 688.2,351.2 688.8,400.8 689.3,448.4 689.9,484.5 690.4,499.6 691.0,488.4 691.5,457.1 692.1,413.4 692.6,364.6 693.2,318.3 693.7,281.9 694.3,263.0 694.8,267.2 695.4,289.4 695.9,322.8 696.5,360.3 697.0,395.0 697.6,420.0 698.1,434.0 698.7,445.7 699.2,452.0 699.8,441.1 700.3,400.5 700.9,346.2 701.4,295.2 702.0,264.6 702.5,268.7 703.1,301.4 703.6,349.5 704.2,400.4 704.7,441.2 705.3,459.2 705.8,448.7 706.4,422.4 706.9,393.4 707.5,375.2 708.0,381.5 708.6,402.6 709.1,402.5 709.7,378.5 710.2,342.7 710.8,306.7 711.3,282.1 711.9,280.6 712.4,306.8 713.0,349.8 713.5,397.2 714.1,436.4 714.6,454.8 715.2,442.7 715.7,414.5 716.3,396.3 716.8,395.5 717.4,395.3 717.9,394.9 718.5,374.7 719.0,328.6 719.6,289.8 720.1,284.2 720.7,289.1 721.2,297.0 721.8,320.6 722.3,367.3 722.9,421.6 723.4,468.1 724.0,491.6 724.5,471.1 725.1,410.7 725.6,347.1 726.2,317.4 726.7,332.8 727.3,357.5 727.8,361.1 728.4,345.7 728.9,326.5 729.5,317.5 730.0,330.8 730.6,362.3 731.1,401.5 731.7,438.1 732.2,461.6 732.8,463.1 733.3,447.9 733.9,422.3 734.4,391.7 735.0,361.5 735.5,337.1 736.1,323.8 736.6,323.9 737.2,329.1 737.7,337.3 738.3,347.4 738.8,359.4 739.4,382.0 739.9,411.1 740.5,439.2 741.0,459.1 741.6,462.4 742.1,435.5 742.7,388.1 743.2,336.3 743.8,296.2 744.3,283.7 744.9,292.9 745.4,312.7 746.0,338.7 746.5,366.7 747.1,392.3 747.6,411.3 748.2,419.4 748.7,414.2 749.3,401.9 749.8,391.1 750.4,388.5 750.9,388.0 751.5,378.9 752.0,352.9 752.6,322.9 753.1,302.2 753.7,302.0 754.2,318.4 754.8,344.7 755.3,374.9 755.9,402.9 756.4,423.0 757.0,429.1 757.5,421.1 758.1,403.5 758.6,380.3 759.2,355.3 759.7,332.3 760.3,315.1 760.8,307.7 761.4,312.4 761.9,327.0 762.5,348.3 763.0,373.2 763.6,398.6 764.1,421.3 764.7,438.2 765.2,446.2 765.8,440.3 766.3,419.0 766.9,388.0 767.4,353.4 768.0,321.1 768.5,297.2 769.1,287.7 769.6,301.1 770.2,334.4 770.7,374.9 771.3,410.1 771.8,427.4 772.4,419.0 772.9,396.9 773.5,377.4 774.0,376.3 774.6,390.7 775.1,395.0 775.7,382.4 776.2,362.5 776.8,344.2 777.3,336.9 777.9,339.3 778.4,344.9 779.0,352.1 779.5,367.3 780.1,390.2 780.6,411.7 781.2,423.3 781.7,416.7 782.3,396.8 782.8,378.3 783.4,373.4 783.9,372.8 784.5,365.3 785.0,340.1 785.6,311.7 786.1,295.9 786.7,302.6 787.2,324.0 787.8,352.4 788.3,380.3 788.9,400.2 789.4,405.7 790.0,406.5 790.5,404.5 791.1,394.2 791.6,377.9 792.2,359.0 792.7,340.8 793.3,326.5 793.8,319.6 794.4,322.0 794.9,332.2 795.5,347.8 796.0,366.9 796.6,387.4 797.1,407.2 797.7,424.4 798.2,436.8 798.8,442.3 799.3,412.1 799.9,345.8 800.4,322.8 801.0,322.8 801.5,322.8 802.1,322.6 802.6,319.5 803.2,316.5 803.7,320.6 804.3,337.9 804.8,364.5 805.4,395.8 805.9,427.6 806.5,455.4 807.0,474.8 807.6,481.5 808.1,462.4 808.7,418.9 809.2,363.7 809.8,309.5 810.3,269.2 810.9,255.5 811.4,271.6 812.0,305.7 812.5,345.7 813.1,379.4 813.6,394.8 814.2,395.8 814.7,396.4 815.3,399.3 815.8,410.7 816.4,419.3 816.9,410.1 817.5,381.9 818.0,344.8 818.6,308.6 819.1,283.4 819.7,279.0 820.2,298.9 820.8,335.2 821.3,379.2 821.9,422.0 822.4,454.9 823.0,469.1 823.5,462.6 824.1,443.4 824.6,415.1 825.2,381.2 825.7,345.3 826.3,311.1 826.8,282.1 827.4,261.9 827.9,254.1 828.5,266.8 829.0,299.6 829.6,342.7 830.1,386.5 830.7,421.2 831.2,437.1 831.8,440.2 832.3,442.1 832.9,438.1 833.4,405.6 834.0,358.7 834.5,318.6 835.1,305.8 835.6,308.3 836.2,313.5 836.7,320.5 837.3,333.9 837.8,361.6 838.4,396.1 838.9,429.1 839.5,452.5 840.0,458.2 840.6,444.8 841.1,418.5 841.7,386.0 842.2,353.6 842.8,328.1 843.3,316.1 843.9,316.4 844.4,318.6 845.0,322.1 845.5,326.9 846.1,337.8 846.6,370.9 847.2,412.1 847.7,444.3 848.3,451.5 848.8,440.7 849.4,419.6 849.9,392.2 850.5,362.1 851.0,332.9 851.6,308.5 852.1,292.4 852.7,288.3 853.2,293.9 853.8,305.3 854.3,320.3 854.9,338.9 855.4,375.0 856.0,409.1 856.5,417.5 857.1,418.1 857.6,417.7 858.2,407.3 858.7,386.3 859.3,358.2"/>
<g clip-path="url(#cd)">
<line x1="180" y1="1049.4" x2="540" y2="776.1" stroke="#000" stroke-width="1.5"/>
<rect x="203.8" y="1023.2" width="8.6" height="8.6" fill="none" stroke="#000" stroke-width="1.3"/>
<rect x="218.6" y="1012.6" width="8.6" height="8.6" fill="none" stroke="#000" stroke-width="1.3"/>
<rect x="233.3" y="1002.2" width="8.6" height="8.6" fill="none" stroke="#000" stroke-width="1.3"/>
<rect x="248.1" y="990.1" width="8.6" height="8.6" fill="none" stroke="#000" stroke-width="1.3"/>
<rect x="262.9" y="974.0" width="8.6" height="8.6" fill="none" stroke="#000" stroke-width="1.3"/>
<rect x="277.6" y="961.6" width="8.6" height="8.6" fill="none" stroke="#000" stroke-width="1.3"/>
<rect x="292.4" y="952.7" width="8.6" height="8.6" fill="none" stroke="#000" stroke-width="1.3"/>
<rect x="307.2" y="943.3" width="8.6" height="8.6" fill="none" stroke="#000" stroke-width="1.3"/>
<rect x="322.0" y="934.8" width="8.6" height="8.6" fill="none" stroke="#000" stroke-width="1.3"/>
<rect x="336.7" y="927.8" width="8.6" height="8.6" fill="none" stroke="#000" stroke-width="1.3"/>
<rect x="351.5" y="923.0" width="8.6" height="8.6" fill="none" stroke="#000" stroke-width="1.3"/>
<rect x="366.3" y="913.0" width="8.6" height="8.6" fill="none" stroke="#000" stroke-width="1.3"/>
<rect x="381.0" y="897.2" width="8.6" height="8.6" fill="none" stroke="#000" stroke-width="1.3"/>
<rect x="395.8" y="880.5" width="8.6" height="8.6" fill="none" stroke="#000" stroke-width="1.3"/>
<rect x="410.6" y="865.3" width="8.6" height="8.6" fill="none" stroke="#000" stroke-width="1.3"/>
<rect x="425.3" y="853.7" width="8.6" height="8.6" fill="none" stroke="#000" stroke-width="1.3"/>
<rect x="440.1" y="846.8" width="8.6" height="8.6" fill="none" stroke="#000" stroke-width="1.3"/>
<rect x="454.9" y="844.6" width="8.6" height="8.6" fill="none" stroke="#000" stroke-width="1.3"/>
<rect x="469.6" y="845.7" width="8.6" height="8.6" fill="none" stroke="#000" stroke-width="1.3"/>
<rect x="484.4" y="846.1" width="8.6" height="8.6" fill="none" stroke="#000" stroke-width="1.3"/>
<rect x="499.2" y="846.6" width="8.6" height="8.6" fill="none" stroke="#000" stroke-width="1.3"/>
<rect x="513.9" y="848.6" width="8.6" height="8.6" fill="none" stroke="#000" stroke-width="1.3"/>
<rect x="528.7" y="853.8" width="8.6" height="8.6" fill="none" stroke="#000" stroke-width="1.3"/>
<rect x="543.5" y="863.1" width="8.6" height="8.6" fill="none" stroke="#000" stroke-width="1.3"/>
<rect x="558.2" y="868.8" width="8.6" height="8.6" fill="none" stroke="#000" stroke-width="1.3"/>
<rect x="573.0" y="868.0" width="8.6" height="8.6" fill="none" stroke="#000" stroke-width="1.3"/>
<rect x="587.8" y="866.0" width="8.6" height="8.6" fill="none" stroke="#000" stroke-width="1.3"/>
<rect x="602.5" y="866.0" width="8.6" height="8.6" fill="none" stroke="#000" stroke-width="1.3"/>
<rect x="617.3" y="868.4" width="8.6" height="8.6" fill="none" stroke="#000" stroke-width="1.3"/>
<rect x="632.1" y="865.2" width="8.6" height="8.6" fill="none" stroke="#000" stroke-width="1.3"/>
<rect x="646.8" y="853.8" width="8.6" height="8.6" fill="none" stroke="#000" stroke-width="1.3"/>
<rect x="661.6" y="842.5" width="8.6" height="8.6" fill="none" stroke="#000" stroke-width="1.3"/>
<rect x="676.4" y="836.4" width="8.6" height="8.6" fill="none" stroke="#000" stroke-width="1.3"/>
<rect x="691.2" y="835.2" width="8.6" height="8.6" fill="none" stroke="#000" stroke-width="1.3"/>
<rect x="705.9" y="838.5" width="8.6" height="8.6" fill="none" stroke="#000" stroke-width="1.3"/>
<rect x="720.7" y="846.1" width="8.6" height="8.6" fill="none" stroke="#000" stroke-width="1.3"/>
<rect x="735.5" y="855.5" width="8.6" height="8.6" fill="none" stroke="#000" stroke-width="1.3"/>
<rect x="750.2" y="864.8" width="8.6" height="8.6" fill="none" stroke="#000" stroke-width="1.3"/>
<rect x="765.0" y="868.8" width="8.6" height="8.6" fill="none" stroke="#000" stroke-width="1.3"/>
<rect x="779.8" y="864.0" width="8.6" height="8.6" fill="none" stroke="#000" stroke-width="1.3"/>
<rect x="794.5" y="856.7" width="8.6" height="8.6" fill="none" stroke="#000" stroke-width="1.3"/>
<rect x="809.3" y="850.2" width="8.6" height="8.6" fill="none" stroke="#000" stroke-width="1.3"/>
<rect x="824.1" y="847.4" width="8.6" height="8.6" fill="none" stroke="#000" stroke-width="1.3"/>
<rect x="838.8" y="847.4" width="8.6" height="8.6" fill="none" stroke="#000" stroke-width="1.3"/>
<rect x="853.6" y="849.4" width="8.6" height="8.6" fill="none" stroke="#000" stroke-width="1.3"/>
</g>
<rect x="119.5" y="1.3" width="738.4" height="1044.0" fill="none" stroke="#000" stroke-width="2.2"/>
<line x1="119.5" y1="262.4" x2="857.9" y2="262.4" stroke="#000" stroke-width="2.2"/>
<line x1="119.5" y1="523.0" x2="857.9" y2="523.0" stroke="#000" stroke-width="2.2"/>
<line x1="119.5" y1="784.4" x2="857.9" y2="784.4" stroke="#000" stroke-width="2.2"/>
<line x1="193.3" y1="1.3" x2="193.3" y2="5.7" stroke="#000" stroke-width="2.0"/>
<line x1="193.3" y1="262.4" x2="193.3" y2="258.0" stroke="#000" stroke-width="2.0"/>
<line x1="267.2" y1="1.3" x2="267.2" y2="9.5" stroke="#000" stroke-width="2.0"/>
<line x1="267.2" y1="262.4" x2="267.2" y2="254.2" stroke="#000" stroke-width="2.0"/>
<line x1="341.0" y1="1.3" x2="341.0" y2="5.7" stroke="#000" stroke-width="2.0"/>
<line x1="341.0" y1="262.4" x2="341.0" y2="258.0" stroke="#000" stroke-width="2.0"/>
<line x1="414.9" y1="1.3" x2="414.9" y2="9.5" stroke="#000" stroke-width="2.0"/>
<line x1="414.9" y1="262.4" x2="414.9" y2="254.2" stroke="#000" stroke-width="2.0"/>
<line x1="488.7" y1="1.3" x2="488.7" y2="5.7" stroke="#000" stroke-width="2.0"/>
<line x1="488.7" y1="262.4" x2="488.7" y2="258.0" stroke="#000" stroke-width="2.0"/>
<line x1="562.5" y1="1.3" x2="562.5" y2="9.5" stroke="#000" stroke-width="2.0"/>
<line x1="562.5" y1="262.4" x2="562.5" y2="254.2" stroke="#000" stroke-width="2.0"/>
<line x1="636.4" y1="1.3" x2="636.4" y2="5.7" stroke="#000" stroke-width="2.0"/>
<line x1="636.4" y1="262.4" x2="636.4" y2="258.0" stroke="#000" stroke-width="2.0"/>
<line x1="710.2" y1="1.3" x2="710.2" y2="9.5" stroke="#000" stroke-width="2.0"/>
<line x1="710.2" y1="262.4" x2="710.2" y2="254.2" stroke="#000" stroke-width="2.0"/>
<line x1="784.1" y1="1.3" x2="784.1" y2="5.7" stroke="#000" stroke-width="2.0"/>
<line x1="784.1" y1="262.4" x2="784.1" y2="258.0" stroke="#000" stroke-width="2.0"/>
<line x1="193.3" y1="262.4" x2="193.3" y2="266.8" stroke="#000" stroke-width="2.0"/>
<line x1="193.3" y1="523.0" x2="193.3" y2="518.6" stroke="#000" stroke-width="2.0"/>
<line x1="267.2" y1="262.4" x2="267.2" y2="270.6" stroke="#000" stroke-width="2.0"/>
<line x1="267.2" y1="523.0" x2="267.2" y2="514.8" stroke="#000" stroke-width="2.0"/>
<line x1="341.0" y1="262.4" x2="341.0" y2="266.8" stroke="#000" stroke-width="2.0"/>
<line x1="341.0" y1="523.0" x2="341.0" y2="518.6" stroke="#000" stroke-width="2.0"/>
<line x1="414.9" y1="262.4" x2="414.9" y2="270.6" stroke="#000" stroke-width="2.0"/>
<line x1="414.9" y1="523.0" x2="414.9" y2="514.8" stroke="#000" stroke-width="2.0"/>
<line x1="488.7" y1="262.4" x2="488.7" y2="266.8" stroke="#000" stroke-width="2.0"/>
<line x1="488.7" y1="523.0" x2="488.7" y2="518.6" stroke="#000" stroke-width="2.0"/>
<line x1="562.5" y1="262.4" x2="562.5" y2="270.6" stroke="#000" stroke-width="2.0"/>
<line x1="562.5" y1="523.0" x2="562.5" y2="514.8" stroke="#000" stroke-width="2.0"/>
<line x1="636.4" y1="262.4" x2="636.4" y2="266.8" stroke="#000" stroke-width="2.0"/>
<line x1="636.4" y1="523.0" x2="636.4" y2="518.6" stroke="#000" stroke-width="2.0"/>
<line x1="710.2" y1="262.4" x2="710.2" y2="270.6" stroke="#000" stroke-width="2.0"/>
<line x1="710.2" y1="523.0" x2="710.2" y2="514.8" stroke="#000" stroke-width="2.0"/>
<line x1="784.1" y1="262.4" x2="784.1" y2="266.8" stroke="#000" stroke-width="2.0"/>
<line x1="784.1" y1="523.0" x2="784.1" y2="518.6" stroke="#000" stroke-width="2.0"/>
<line x1="193.3" y1="523.0" x2="193.3" y2="527.4" stroke="#000" stroke-width="2.0"/>
<line x1="193.3" y1="784.4" x2="193.3" y2="780.0" stroke="#000" stroke-width="2.0"/>
<line x1="267.2" y1="523.0" x2="267.2" y2="531.2" stroke="#000" stroke-width="2.0"/>
<line x1="267.2" y1="784.4" x2="267.2" y2="776.2" stroke="#000" stroke-width="2.0"/>
<line x1="341.0" y1="523.0" x2="341.0" y2="527.4" stroke="#000" stroke-width="2.0"/>
<line x1="341.0" y1="784.4" x2="341.0" y2="780.0" stroke="#000" stroke-width="2.0"/>
<line x1="414.9" y1="523.0" x2="414.9" y2="531.2" stroke="#000" stroke-width="2.0"/>
<line x1="414.9" y1="784.4" x2="414.9" y2="776.2" stroke="#000" stroke-width="2.0"/>
<line x1="488.7" y1="523.0" x2="488.7" y2="527.4" stroke="#000" stroke-width="2.0"/>
<line x1="488.7" y1="784.4" x2="488.7" y2="780.0" stroke="#000" stroke-width="2.0"/>
<line x1="562.5" y1="523.0" x2="562.5" y2="531.2" stroke="#000" stroke-width="2.0"/>
<line x1="562.5" y1="784.4" x2="562.5" y2="776.2" stroke="#000" stroke-width="2.0"/>
<line x1="636.4" y1="523.0" x2="636.4" y2="527.4" stroke="#000" stroke-width="2.0"/>
<line x1="636.4" y1="784.4" x2="636.4" y2="780.0" stroke="#000" stroke-width="2.0"/>
<line x1="710.2" y1="523.0" x2="710.2" y2="531.2" stroke="#000" stroke-width="2.0"/>
<line x1="710.2" y1="784.4" x2="710.2" y2="776.2" stroke="#000" stroke-width="2.0"/>
<line x1="784.1" y1="523.0" x2="784.1" y2="527.4" stroke="#000" stroke-width="2.0"/>
<line x1="784.1" y1="784.4" x2="784.1" y2="780.0" stroke="#000" stroke-width="2.0"/>
<line x1="193.3" y1="784.4" x2="193.3" y2="788.8" stroke="#000" stroke-width="2.0"/>
<line x1="193.3" y1="1045.3" x2="193.3" y2="1040.9" stroke="#000" stroke-width="2.0"/>
<line x1="267.2" y1="784.4" x2="267.2" y2="792.6" stroke="#000" stroke-width="2.0"/>
<line x1="267.2" y1="1045.3" x2="267.2" y2="1037.1" stroke="#000" stroke-width="2.0"/>
<line x1="341.0" y1="784.4" x2="341.0" y2="788.8" stroke="#000" stroke-width="2.0"/>
<line x1="341.0" y1="1045.3" x2="341.0" y2="1040.9" stroke="#000" stroke-width="2.0"/>
<line x1="414.9" y1="784.4" x2="414.9" y2="792.6" stroke="#000" stroke-width="2.0"/>
<line x1="414.9" y1="1045.3" x2="414.9" y2="1037.1" stroke="#000" stroke-width="2.0"/>
<line x1="488.7" y1="784.4" x2="488.7" y2="788.8" stroke="#000" stroke-width="2.0"/>
<line x1="488.7" y1="1045.3" x2="488.7" y2="1040.9" stroke="#000" stroke-width="2.0"/>
<line x1="562.5" y1="784.4" x2="562.5" y2="792.6" stroke="#000" stroke-width="2.0"/>
<line x1="562.5" y1="1045.3" x2="562.5" y2="1037.1" stroke="#000" stroke-width="2.0"/>
<line x1="636.4" y1="784.4" x2="636.4" y2="788.8" stroke="#000" stroke-width="2.0"/>
<line x1="636.4" y1="1045.3" x2="636.4" y2="1040.9" stroke="#000" stroke-width="2.0"/>
<line x1="710.2" y1="784.4" x2="710.2" y2="792.6" stroke="#000" stroke-width="2.0"/>
<line x1="710.2" y1="1045.3" x2="710.2" y2="1037.1" stroke="#000" stroke-width="2.0"/>
<line x1="784.1" y1="784.4" x2="784.1" y2="788.8" stroke="#000" stroke-width="2.0"/>
<line x1="784.1" y1="1045.3" x2="784.1" y2="1040.9" stroke="#000" stroke-width="2.0"/>
<line x1="119.5" y1="235.9" x2="127.7" y2="235.9" stroke="#000" stroke-width="2.0"/>
<line x1="857.9" y1="235.9" x2="849.7" y2="235.9" stroke="#000" stroke-width="2.0"/>
<line x1="119.5" y1="131.9" x2="127.7" y2="131.9" stroke="#000" stroke-width="2.0"/>
<line x1="857.9" y1="131.9" x2="849.7" y2="131.9" stroke="#000" stroke-width="2.0"/>
<line x1="119.5" y1="27.8" x2="127.7" y2="27.8" stroke="#000" stroke-width="2.0"/>
<line x1="857.9" y1="27.8" x2="849.7" y2="27.8" stroke="#000" stroke-width="2.0"/>
<line x1="119.5" y1="183.9" x2="123.9" y2="183.9" stroke="#000" stroke-width="2.0"/>
<line x1="857.9" y1="183.9" x2="853.5" y2="183.9" stroke="#000" stroke-width="2.0"/>
<line x1="119.5" y1="79.8" x2="123.9" y2="79.8" stroke="#000" stroke-width="2.0"/>
<line x1="857.9" y1="79.8" x2="853.5" y2="79.8" stroke="#000" stroke-width="2.0"/>
<line x1="119.5" y1="479.3" x2="127.7" y2="479.3" stroke="#000" stroke-width="2.0"/>
<line x1="857.9" y1="479.3" x2="849.7" y2="479.3" stroke="#000" stroke-width="2.0"/>
<line x1="119.5" y1="392.4" x2="127.7" y2="392.4" stroke="#000" stroke-width="2.0"/>
<line x1="857.9" y1="392.4" x2="849.7" y2="392.4" stroke="#000" stroke-width="2.0"/>
<line x1="119.5" y1="305.5" x2="127.7" y2="305.5" stroke="#000" stroke-width="2.0"/>
<line x1="857.9" y1="305.5" x2="849.7" y2="305.5" stroke="#000" stroke-width="2.0"/>
<line x1="119.5" y1="435.9" x2="123.9" y2="435.9" stroke="#000" stroke-width="2.0"/>
<line x1="857.9" y1="435.9" x2="853.5" y2="435.9" stroke="#000" stroke-width="2.0"/>
<line x1="119.5" y1="349.0" x2="123.9" y2="349.0" stroke="#000" stroke-width="2.0"/>
<line x1="857.9" y1="349.0" x2="853.5" y2="349.0" stroke="#000" stroke-width="2.0"/>
<line x1="119.5" y1="740.8" x2="127.7" y2="740.8" stroke="#000" stroke-width="2.0"/>
<line x1="857.9" y1="740.8" x2="849.7" y2="740.8" stroke="#000" stroke-width="2.0"/>
<line x1="119.5" y1="653.7" x2="127.7" y2="653.7" stroke="#000" stroke-width="2.0"/>
<line x1="857.9" y1="653.7" x2="849.7" y2="653.7" stroke="#000" stroke-width="2.0"/>
<line x1="119.5" y1="566.6" x2="127.7" y2="566.6" stroke="#000" stroke-width="2.0"/>
<line x1="857.9" y1="566.6" x2="849.7" y2="566.6" stroke="#000" stroke-width="2.0"/>
<line x1="119.5" y1="697.3" x2="123.9" y2="697.3" stroke="#000" stroke-width="2.0"/>
<line x1="857.9" y1="697.3" x2="853.5" y2="697.3" stroke="#000" stroke-width="2.0"/>
<line x1="119.5" y1="610.1" x2="123.9" y2="610.1" stroke="#000" stroke-width="2.0"/>
<line x1="857.9" y1="610.1" x2="853.5" y2="610.1" stroke="#000" stroke-width="2.0"/>
<line x1="119.5" y1="970.5" x2="127.7" y2="970.5" stroke="#000" stroke-width="2.0"/>
<line x1="857.9" y1="970.5" x2="849.7" y2="970.5" stroke="#000" stroke-width="2.0"/>
<line x1="119.5" y1="827.5" x2="127.7" y2="827.5" stroke="#000" stroke-width="2.0"/>
<line x1="857.9" y1="827.5" x2="849.7" y2="827.5" stroke="#000" stroke-width="2.0"/>
<line x1="119.5" y1="1027.4" x2="123.9" y2="1027.4" stroke="#000" stroke-width="2.0"/>
<line x1="857.9" y1="1027.4" x2="853.5" y2="1027.4" stroke="#000" stroke-width="2.0"/>
<line x1="119.5" y1="1013.5" x2="123.9" y2="1013.5" stroke="#000" stroke-width="2.0"/>
<line x1="857.9" y1="1013.5" x2="853.5" y2="1013.5" stroke="#000" stroke-width="2.0"/>
<line x1="119.5" y1="1002.2" x2="123.9" y2="1002.2" stroke="#000" stroke-width="2.0"/>
<line x1="857.9" y1="1002.2" x2="853.5" y2="1002.2" stroke="#000" stroke-width="2.0"/>
<line x1="119.5" y1="992.7" x2="123.9" y2="992.7" stroke="#000" stroke-width="2.0"/>
<line x1="857.9" y1="992.7" x2="853.5" y2="992.7" stroke="#000" stroke-width="2.0"/>
<line x1="119.5" y1="984.4" x2="123.9" y2="984.4" stroke="#000" stroke-width="2.0"/>
<line x1="857.9" y1="984.4" x2="853.5" y2="984.4" stroke="#000" stroke-width="2.0"/>
<line x1="119.5" y1="977.0" x2="123.9" y2="977.0" stroke="#000" stroke-width="2.0"/>
<line x1="857.9" y1="977.0" x2="853.5" y2="977.0" stroke="#000" stroke-width="2.0"/>
<line x1="119.5" y1="927.5" x2="123.9" y2="927.5" stroke="#000" stroke-width="2.0"/>
<line x1="857.9" y1="927.5" x2="853.5" y2="927.5" stroke="#000" stroke-width="2.0"/>
<line x1="119.5" y1="902.3" x2="123.9" y2="902.3" stroke="#000" stroke-width="2.0"/>
<line x1="857.9" y1="902.3" x2="853.5" y2="902.3" stroke="#000" stroke-width="2.0"/>
<line x1="119.5" y1="884.4" x2="123.9" y2="884.4" stroke="#000" stroke-width="2.0"/>
<line x1="857.9" y1="884.4" x2="853.5" y2="884.4" stroke="#000" stroke-width="2.0"/>
<line x1="119.5" y1="870.5" x2="123.9" y2="870.5" stroke="#000" stroke-width="2.0"/>
<line x1="857.9" y1="870.5" x2="853.5" y2="870.5" stroke="#000" stroke-width="2.0"/>
<line x1="119.5" y1="859.2" x2="123.9" y2="859.2" stroke="#000" stroke-width="2.0"/>
<line x1="857.9" y1="859.2" x2="853.5" y2="859.2" stroke="#000" stroke-width="2.0"/>
<line x1="119.5" y1="849.7" x2="123.9" y2="849.7" stroke="#000" stroke-width="2.0"/>
<line x1="857.9" y1="849.7" x2="853.5" y2="849.7" stroke="#000" stroke-width="2.0"/>
<line x1="119.5" y1="841.4" x2="123.9" y2="841.4" stroke="#000" stroke-width="2.0"/>
<line x1="857.9" y1="841.4" x2="853.5" y2="841.4" stroke="#000" stroke-width="2.0"/>
<line x1="119.5" y1="834.0" x2="123.9" y2="834.0" stroke="#000" stroke-width="2.0"/>
<line x1="857.9" y1="834.0" x2="853.5" y2="834.0" stroke="#000" stroke-width="2.0"/>
<rect x="866.2" y="546.1" width="35.6" height="212.7" fill="url(#cb)"/>
<text transform="translate(7.0,32.3) scale(1,1.02)" font-size="36" text-anchor="start" font-weight="bold" stroke="#000" stroke-width="0">a</text>
<text transform="translate(7.0,293.3) scale(1,1.02)" font-size="36" text-anchor="start" font-weight="bold" stroke="#000" stroke-width="0">b</text>
<text transform="translate(7.0,555.8) scale(1,1.02)" font-size="36" text-anchor="start" font-weight="bold" stroke="#000" stroke-width="0">c</text>
<text transform="translate(7.0,815.8) scale(1,1.02)" font-size="36" text-anchor="start" font-weight="bold" stroke="#000" stroke-width="0">d</text>
<text transform="translate(112.0,35.4) scale(1,1.1)" font-size="28.6" text-anchor="end" stroke="#000" stroke-width="0.35">2000</text>
<text transform="translate(112.0,139.5) scale(1,1.1)" font-size="28.6" text-anchor="end" stroke="#000" stroke-width="0.35">1000</text>
<text transform="translate(112.0,243.5) scale(1,1.1)" font-size="28.6" text-anchor="end" stroke="#000" stroke-width="0.35">0</text>
<text transform="translate(112.0,313.3) scale(1,1.1)" font-size="28.6" text-anchor="end" stroke="#000" stroke-width="0.35">60</text>
<text transform="translate(112.0,400.1) scale(1,1.1)" font-size="28.6" text-anchor="end" stroke="#000" stroke-width="0.35">30</text>
<text transform="translate(112.0,486.9) scale(1,1.1)" font-size="28.6" text-anchor="end" stroke="#000" stroke-width="0.35">0</text>
<text transform="translate(112.0,574.2) scale(1,1.1)" font-size="28.6" text-anchor="end" stroke="#000" stroke-width="0.35">25</text>
<text transform="translate(112.0,661.3) scale(1,1.1)" font-size="28.6" text-anchor="end" stroke="#000" stroke-width="0.35">15</text>
<text transform="translate(112.0,748.4) scale(1,1.1)" font-size="28.6" text-anchor="end" stroke="#000" stroke-width="0.35">5</text>
<text transform="translate(95.5,837.9) scale(1,1.1)" font-size="28.6" text-anchor="end" stroke="#000" stroke-width="0.35">10</text>
<text transform="translate(96.0,824.2) scale(1,1.1)" font-size="17.8" text-anchor="start" stroke="#000" stroke-width="0.35">-2</text>
<text transform="translate(95.5,980.9) scale(1,1.1)" font-size="28.6" text-anchor="end" stroke="#000" stroke-width="0.35">10</text>
<text transform="translate(96.0,967.2) scale(1,1.1)" font-size="17.8" text-anchor="start" stroke="#000" stroke-width="0.35">-3</text>
<text transform="translate(119.5,1075.4) scale(1,1.1)" font-size="28.6" text-anchor="middle" stroke="#000" stroke-width="0.35">125</text>
<text transform="translate(267.2,1075.4) scale(1,1.1)" font-size="28.6" text-anchor="middle" stroke="#000" stroke-width="0.35">126</text>
<text transform="translate(414.9,1075.4) scale(1,1.1)" font-size="28.6" text-anchor="middle" stroke="#000" stroke-width="0.35">127</text>
<text transform="translate(562.5,1075.4) scale(1,1.1)" font-size="28.6" text-anchor="middle" stroke="#000" stroke-width="0.35">128</text>
<text transform="translate(710.2,1075.4) scale(1,1.1)" font-size="28.6" text-anchor="middle" stroke="#000" stroke-width="0.35">129</text>
<text transform="translate(857.9,1075.4) scale(1,1.1)" font-size="28.6" text-anchor="middle" stroke="#000" stroke-width="0.35">130</text>
<text transform="translate(488.5,1119.7) scale(1,1.03)" font-size="45" text-anchor="middle" stroke="#000" stroke-width="0.35">t (s)</text>
<text transform="translate(909.0,559.7) scale(1,1.1)" font-size="28.6" text-anchor="start" stroke="#000" stroke-width="0.35">-4</text>
<text transform="translate(909.0,628.5) scale(1,1.1)" font-size="28.6" text-anchor="start" stroke="#000" stroke-width="0.35">-5</text>
<text transform="translate(909.0,699.0) scale(1,1.1)" font-size="28.6" text-anchor="start" stroke="#000" stroke-width="0.35">-6</text>
<text transform="translate(909.0,770.0) scale(1,1.1)" font-size="28.6" text-anchor="start" stroke="#000" stroke-width="0.35">-7</text>
<g transform="translate(28.2,201.5) rotate(-90) scale(1,1.05)" stroke="#000" stroke-width="0.35"><text font-size="37">B<tspan font-size="24" dy="14">z</tspan><tspan dy="-14" letter-spacing="0.6">(t) (G)</tspan></text></g>
<g transform="translate(28.2,460) rotate(-90) scale(1,1.05)" stroke="#000" stroke-width="0.35"><text font-size="37">B<tspan font-size="24" dy="14">r</tspan><tspan dy="-14" letter-spacing="0.6">(t) (G)</tspan></text></g>
<g transform="translate(27.6,703) rotate(-90) scale(1,1.05)" stroke="#000" stroke-width="0.35"><text font-size="37" letter-spacing="0.8">f (Hz)</text></g>
<g transform="translate(28,944) rotate(-90) scale(1,1.05)" stroke="#000" stroke-width="0.35"><text font-size="37">χ<tspan letter-spacing="1.6">(t)</tspan></text></g>
<g transform="translate(973,749) rotate(-90) scale(1,1.05)" stroke="#000" stroke-width="0.35"><text font-size="38" letter-spacing="0.15">log<tspan font-size="24" dy="16">10</tspan><tspan dy="-16">(Power)</tspan></text></g>
</svg></body></html>
